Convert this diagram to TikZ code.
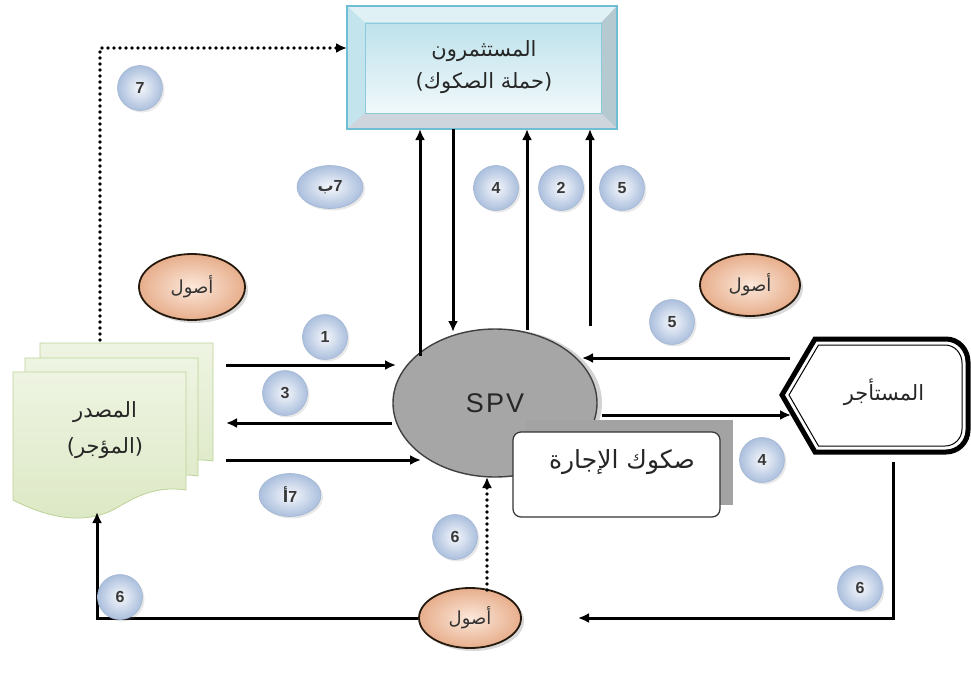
\documentclass[tikz,border=0pt]{standalone}
\usepackage{fontspec}
\setmainfont{Liberation Sans}
\newfontfamily\arabicfont[Script=Arabic]{DejaVu Sans}
\newfontfamily\parfont{DejaVu Sans}
\TeXXeTstate=1
\usetikzlibrary{arrows.meta,shadows,shapes.geometric,calc}
\definecolor{numedge}{HTML}{A3B6D3}
\definecolor{numin}{HTML}{F6F8FC}
\definecolor{numout}{HTML}{ABBFDD}
\definecolor{assetin}{HTML}{FCE8DA}
\definecolor{assetout}{HTML}{E7AE8C}
\definecolor{docfill}{HTML}{DCE8C4}
\definecolor{doctop}{HTML}{EEF4E2}
\definecolor{docedge}{HTML}{BCD296}
\definecolor{boxedge}{HTML}{6FBED3}
\begin{document}
\begin{tikzpicture}[x=1pt,y=-1pt,
  arr/.style={line width=3pt,-{Latex[length=11pt,width=10pt]}},
  dotarr/.style={line width=3.8pt,line cap=round,dash pattern=on 0pt off 6pt,-{Latex[length=11pt,width=10pt]}},
  numc/.style={circle,minimum size=45pt,inner sep=0pt,draw=numedge,line width=0.6pt,
    inner color=numin,outer color=numout,
    drop shadow={opacity=0.18,shadow xshift=2pt,shadow yshift=-2pt},
    font=\bfseries\fontsize{16}{16}\selectfont,text=black!78},
  nume/.style={numc,ellipse,minimum width=66pt,minimum height=43pt},
  asset/.style={ellipse,draw=black!80!brown,line width=1.8pt,inner color=assetin,outer color=assetout,
    drop shadow={opacity=0.3,shadow xshift=3pt,shadow yshift=-3pt},
    font=\arabicfont\fontsize{18}{18}\selectfont,text=black!80},
  ar/.style={font=\arabicfont\fontsize{#1}{#1}\selectfont,text=black!85,align=center},
  ar/.default=20
]
\useasboundingbox (0,0) rectangle (971,677);

% ---------- investors box (beveled) ----------
\fill[boxedge!50] (347,6) rectangle (617,129);
\fill[boxedge!22] (347,6) -- (617,6) -- (601,23) -- (365,23) -- cycle;
\fill[boxedge!42] (347,6) -- (365,23) -- (365,113) -- (347,129) -- cycle;
\fill[gray!50!boxedge!55] (617,6) -- (601,23) -- (601,113) -- (617,129) -- cycle;
\fill[red!18!boxedge!42] (347,129) -- (365,113) -- (601,113) -- (617,129) -- cycle;
\draw[boxedge,line width=1.2pt] (347,6) rectangle (617,129);
\shade[top color=boxedge!45,bottom color=boxedge!10,draw=boxedge!80,line width=0.6pt] (365,23) rectangle (601,113);
\node[ar=21] (inv) at (484,67) {\beginR المستثمرون\endR\\[10pt]{\parfont(}\beginR حملة الصكوك\endR{\parfont)}};
\coordinate (invS1) at (420,129);
\coordinate (invS2) at (453,129);
\coordinate (invS3) at (527,129);
\coordinate (invS4) at (590,129);
\coordinate (invW) at (347,48);

% ---------- issuer documents ----------
\foreach \dx/\dy in {27/-29,12/-14,0/0}{
  \begin{scope}[shift={(\dx,\dy)}]
  \shade[top color=doctop,bottom color=docfill,draw=docedge,line width=0.8pt]
    (13,372) -- (186,372) -- (186,490)
    .. controls (160,486) and (140,494) .. (120,506)
    .. controls (95,522) and (60,524) .. (13,500) -- cycle;
  \end{scope}
}
\node[ar=21] (iss) at (105,430) {\beginR المصدر\endR\\[14pt]{\parfont(}\beginR المؤجر\endR{\parfont)}};
\coordinate (issE1) at (226,365);
\coordinate (issE2) at (226,423);
\coordinate (issE3) at (226,460);
\coordinate (issN) at (100,340);
\coordinate (issS) at (97,512);

% ---------- SPV ----------
\node[ellipse,minimum width=204pt,minimum height=148pt,fill=black!35,draw=black!75,line width=1.4pt,
  drop shadow={opacity=0.35,shadow xshift=5pt,shadow yshift=0pt},
  font=\fontsize{27}{27}\selectfont,text=black!85] (spv) at (495,403) {S\kern2pt P\kern2pt V};
\coordinate (spvN1) at (420,356);
\coordinate (spvN2) at (453,332);
\coordinate (spvN3) at (527,330);
\coordinate (spvN4) at (590,326);
\coordinate (spvW1) at (396,365);
\coordinate (spvW2) at (392,423);
\coordinate (spvW3) at (421,460);
\coordinate (spvE1) at (582,358);
\coordinate (spvE2) at (602,415);
\coordinate (spvS) at (487,477);

% ---------- sukuk certificate ----------
\fill[black!36] (526,420) rectangle (733,505);
\node[draw=black!80,line width=1.2pt,fill=white,rounded corners=8pt,minimum width=207pt,minimum height=85pt] (suk) at (616.5,474.5) {};
\node[ar=25] (suktext) at (622,462) {\beginR صكوك الإجارة\endR};

% ---------- lessee (hexagon-like) ----------
\filldraw[fill=white,draw=black,line width=5pt]
  (782,395) -- (815,339) -- (946,339) to[out=0,in=90] (968,362) -- (968,430) to[out=-90,in=0] (946,452) -- (815,452) -- cycle;
\draw[black,line width=1pt]
  (789,395) -- (818.5,345) -- (945,345) to[out=0,in=90] (962,363) -- (962,429) to[out=-90,in=0] (945,446) -- (818.5,446) -- cycle;
\node[ar=21] (les) at (884,392) {\beginR المستأجر\endR};
\coordinate (lesW1) at (790,358);
\coordinate (lesW2) at (791,415);
\coordinate (lesS) at (893,462);

% ---------- assets ----------
\node[asset,minimum width=106pt,minimum height=66pt] (as1) at (192,287) {\beginR أصول\endR};
\node[asset,minimum width=100pt,minimum height=62pt] (as2) at (750,285) {\beginR أصول\endR};
\node[asset,minimum width=102pt,minimum height=60pt] (as3) at (470,618) {\beginR أصول\endR};
\coordinate (as3top) at (487,590);

% ---------- connectors ----------
\draw[dotarr] (issN) |- (invW);
\draw[arr] (spvN1) -- (invS1);
\draw[arr] (invS2) -- (spvN2);
\draw[arr] (spvN3) -- (invS3);
\draw[arr] (spvN4) -- (invS4);
\draw[arr] (issE1) -- (spvW1);
\draw[arr] (spvW2) -- (issE2);
\draw[arr] (issE3) -- (spvW3);
\draw[arr] (lesW1) -- (spvE1);
\draw[arr] (spvE2) -- (lesW2);
\coordinate (botR) at (893,618);
\coordinate (botRend) at (578,618);
\draw[arr] (lesS) -- (botR) -- (botRend);
\coordinate (botL) at (97,618);
\draw[arr] (as3.west) -- (botL) -- (issS);
\draw[dotarr] (as3top) -- (spvS);

% ---------- step numbers ----------
\node[numc] (n7) at (140,88) {7};
\node[nume] (n7b) at (330,187) {{\arabicfont ب}7};
\node[numc] (n4a) at (496,188) {4};
\node[numc] (n2) at (561,188) {2};
\node[numc] (n5a) at (622,188) {5};
\node[numc] (n1) at (325,337) {1};
\node[numc] (n3) at (285,393) {3};
\node[nume,minimum width=62pt] (n7a) at (290,495) {{\arabicfont أ}7};
\node[numc] (n5b) at (672,322) {5};
\node[numc] (n4b) at (762,460) {4};
\node[numc] (n6a) at (455,537) {6};
\node[numc] (n6b) at (120,597) {6};
\node[numc] (n6c) at (860,588) {6};
\end{tikzpicture}
\end{document}
